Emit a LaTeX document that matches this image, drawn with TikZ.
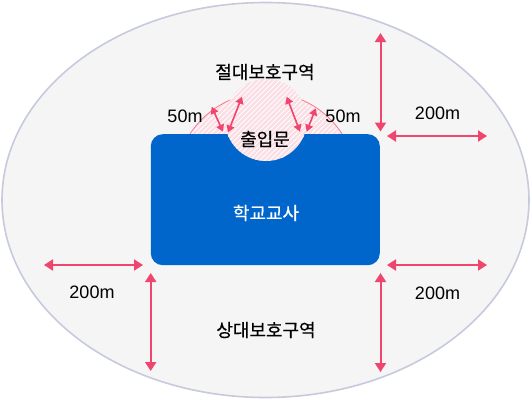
\documentclass[tikz,border=0pt]{standalone}
\usepackage{fontspec}
\setmainfont{Liberation Sans}
\newfontfamily\krfont[FakeBold=0.5]{Noto Sans CJK KR}
\usetikzlibrary{arrows.meta}
\definecolor{zonefill}{HTML}{F5F5F5}
\definecolor{zoneline}{HTML}{C6CADC}
\definecolor{schoolblue}{HTML}{0066CC}
\definecolor{arrowred}{HTML}{F0456C}
\definecolor{hatchpink}{HTML}{FBDDE4}
\definecolor{arcpink}{HTML}{F57A93}
\begin{document}
\begin{tikzpicture}[x=1pt,y=-1pt,
  zone/.style={fill=zonefill,draw=zoneline,line width=1.6pt},
  school/.style={rectangle,rounded corners=12pt,fill=schoolblue,inner sep=0pt,minimum width=229pt,minimum height=131pt},
  krlabel/.style={font=\krfont\fontsize{18}{21}\selectfont,inner sep=1pt},
  numlabel/.style={font=\fontsize{18}{21}\selectfont,inner sep=1pt},
  bigarrow/.style={draw=arrowred,line width=2pt,{Triangle[length=9pt,width=11pt]}-{Triangle[length=9pt,width=11pt]}},
  smallarrow/.style={draw=arrowred,line width=1.6pt,{Triangle[length=7pt,width=8pt]}-{Triangle[length=7pt,width=8pt]}},
  stripe/.style={white,line width=1pt}]
\useasboundingbox (0,0) rectangle (530,400);
% outer zone
\draw[zone] (265.5,200) ellipse [x radius=263.5pt, y radius=197.5pt];
% absolute protection arc region
\begin{scope}
  \clip (150,134) rectangle (382,80);
  \clip (266,183) circle [radius=90.5pt];
  \fill[hatchpink] (150,80) rectangle (382,134);
  \foreach \i in {40,45,...,400} \draw[stripe] ({\i},180) -- ({\i+120},60);
\end{scope}
\draw[arcpink,line width=0.8pt] (190,134) arc [start angle=147.2, end angle=32.8, radius=90.5pt];
% school building
\node[school] (bldg) at (265.3,199.7) {};
% gate circle
\begin{scope}
  \clip (266,120) circle [radius=41pt];
  \fill[hatchpink] (220,75) rectangle (312,165);
  \foreach \i in {120,125,...,330} \draw[stripe] ({\i},180) -- ({\i+120},60);
\end{scope}
% texts
\node[krlabel] (abs) at (265,72) {절대보호구역};
\node[krlabel] (gate) at (265,139) {출입문};
\node[krlabel,text=white] (bldgtxt) at (266,213) {학교교사};
\node[krlabel] (rel) at (266,330) {상대보호구역};
\node[numlabel] (l50) at (185,116) {50m};
\node[numlabel] (r50) at (343,116) {50m};
\node[numlabel] (tr200) at (437.5,113) {200m};
\node[numlabel] (br200) at (437.5,293) {200m};
\node[numlabel] (l200) at (92,292) {200m};
% arrow end points
\coordinate (trvA) at (380.5,33);
\coordinate (trvB) at (380.5,131.5);
\coordinate (trhA) at (387,136);
\coordinate (trhB) at (487,136);
\coordinate (brhA) at (387,265);
\coordinate (brhB) at (487,265);
\coordinate (brvA) at (380.5,273);
\coordinate (brvB) at (380.5,372);
\coordinate (lhA) at (44,265);
\coordinate (lhB) at (143,265);
\coordinate (lvA) at (150.7,273);
\coordinate (lvB) at (150.7,371);
\coordinate (s1A) at (211.7,106.7);
\coordinate (s1B) at (223,131.7);
\coordinate (s2A) at (242,96.7);
\coordinate (s2B) at (228,132.5);
\coordinate (s3A) at (286.7,96.7);
\coordinate (s3B) at (300,131.7);
\coordinate (s4A) at (315.7,108.3);
\coordinate (s4B) at (306.7,131.7);
% big arrows
\draw[bigarrow] (trvA) -- (trvB);
\draw[bigarrow] (trhA) -- (trhB);
\draw[bigarrow] (brhA) -- (brhB);
\draw[bigarrow] (brvA) -- (brvB);
\draw[bigarrow] (lhA) -- (lhB);
\draw[bigarrow] (lvA) -- (lvB);
% small arrows
\draw[smallarrow] (s1A) -- (s1B);
\draw[smallarrow] (s2A) -- (s2B);
\draw[smallarrow] (s3A) -- (s3B);
\draw[smallarrow] (s4A) -- (s4B);
\end{tikzpicture}
\end{document}
